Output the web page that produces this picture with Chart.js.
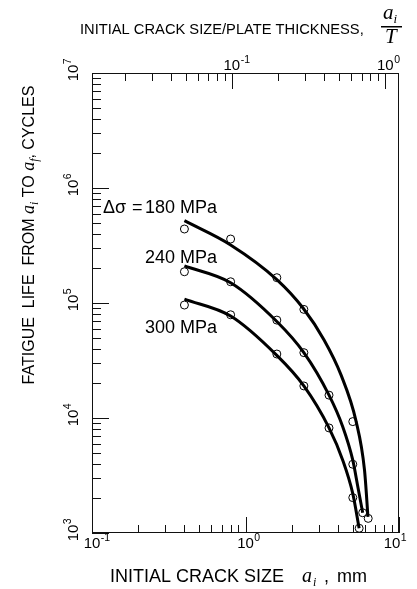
<!DOCTYPE html>
<html>
<head>
<meta charset="utf-8">
<script src="https://cdn.jsdelivr.net/npm/chart.js@4.4.0/dist/chart.umd.min.js"></script>
<style>
  body { margin: 0; background: #fff; }
  canvas { display: block; }
</style>
</head>
<body>
<canvas id="lifeChart" width="417" height="589"></canvas>
<script>
// fitted curves (crack size mm, cycles)
var curveSize180 = [0.4, 0.8, 1.6, 2.37, 3.25, 4.19, 5.25, 5.96, 6.28];
var curveLife180 = [5.2e5, 3.2e5, 1.6e5, 9.05e4, 4.77e4, 2.37e4, 9.4e3, 3.53e3, 1.38e3];
var curveSize240 = [0.4, 0.8, 1.6, 2.4, 3.5, 4.3, 5.0, 5.4, 5.8];
var curveLife240 = [2.1e5, 1.5e5, 6.9e4, 3.7e4, 1.58e4, 8.4e3, 4.3e3, 2.5e3, 1.5e3];
var curveSize300 = [0.4, 0.8, 1.6, 2.4, 3.5, 4.3, 5.0, 5.5];
var curveLife300 = [1.08e5, 7.7e4, 3.5e4, 1.9e4, 8.2e3, 4.3e3, 2.2e3, 1.1e3];

// test points (open circles)
var testSize180 = [0.4, 0.8, 1.6, 2.4, 5.0, 6.3];
var testLife180 = [4.4e5, 3.6e5, 1.66e5, 8.8e4, 9.3e3, 1.34e3];
var testSize240 = [0.4, 0.8, 1.6, 2.4, 3.5, 5.0, 5.8];
var testLife240 = [1.87e5, 1.53e5, 7.1e4, 3.7e4, 1.58e4, 3.96e3, 1.5e3];
var testSize300 = [0.4, 0.8, 1.6, 2.4, 3.5, 5.0, 5.5];
var testLife300 = [9.6e4, 7.9e4, 3.6e4, 1.9e4, 8.2e3, 2.03e3, 1.1e3];

var plateThickness = 8.15; // mm, gives the a_i/T axis on top

// tick values and labels
var bottomMajor = [0.1, 1, 10];
var bottomExp = ['-1', '0', '1'];
var bottomMinor = [0.2, 0.3, 0.4, 0.5, 0.6, 0.7, 0.8, 0.9, 2, 3, 4, 5, 6, 7, 8, 9];
var topMajor = [0.1, 1];
var topExp = ['-1', '0'];
var topMinor = [0.02, 0.03, 0.04, 0.05, 0.06, 0.07, 0.08, 0.09, 0.2, 0.3, 0.4, 0.5, 0.6, 0.7, 0.8, 0.9];
var leftMajor = [1e3, 1e4, 1e5, 1e6, 1e7];
var leftExp = ['3', '4', '5', '6', '7'];
var leftMinor = [];
[1e3, 1e4, 1e5, 1e6].forEach(function(d) {
    [2, 3, 4, 5, 6, 7, 8, 9].forEach(function(m) { leftMinor.push(m * d); });
});

var stressLabels = ['180 MPa', '240 MPa', '300 MPa'];

function pairs(xs, ys) {
    return xs.map(function(x, i) { return { x: x, y: ys[i] }; });
}

var SANS = '"Liberation Sans", Arial, sans-serif';
var SERIF = '"Liberation Serif", "Times New Roman", serif';

// draw a row of text pieces: [text, font, dy]
function drawPieces(ctx, pieces, x, y) {
    pieces.forEach(function(p) {
        ctx.font = p[1];
        ctx.fillText(p[0], x, y + (p[2] || 0));
        x += ctx.measureText(p[0]).width;
    });
}
function piecesWidth(ctx, pieces) {
    var w = 0;
    pieces.forEach(function(p) { ctx.font = p[1]; w += ctx.measureText(p[0]).width; });
    return w;
}

// "10" with a small exponent, base centred on x
function drawPower(ctx, x, y, exp) {
    ctx.textAlign = 'left';
    ctx.font = '15px ' + SANS;
    var w = ctx.measureText('10').width;
    ctx.fillText('10', x - w / 2, y);
    ctx.font = '10.5px ' + SANS;
    ctx.fillText(exp, x + w / 2 + 0.5, y - 7);
}

var axisDecor = {
    id: 'axisDecor',
    afterDatasetsDraw: function(chart) {
        var ctx = chart.ctx;
        var a = chart.chartArea;
        var xs = chart.scales.x, ys = chart.scales.y, xt = chart.scales.xTop;
        ctx.save();
        ctx.strokeStyle = '#111';
        ctx.lineWidth = 1;
        ctx.strokeRect(a.left + 0.5, a.top + 0.5, a.right - a.left - 1, a.bottom - a.top - 1);

        ctx.beginPath();
        function vTick(scale, v, y0, len) {
            var px = Math.round(scale.getPixelForValue(v)) + 0.5;
            ctx.moveTo(px, y0); ctx.lineTo(px, y0 + len);
        }
        bottomMajor.forEach(function(v) { vTick(xs, v, a.bottom, -16); });
        bottomMinor.forEach(function(v) { vTick(xs, v, a.bottom, -8); });
        topMajor.forEach(function(v) { vTick(xt, v, a.top, 16); });
        topMinor.forEach(function(v) { vTick(xt, v, a.top, 8); });
        leftMajor.forEach(function(v) {
            var py = Math.round(ys.getPixelForValue(v)) + 0.5;
            ctx.moveTo(a.left, py); ctx.lineTo(a.left + 17, py);
        });
        leftMinor.forEach(function(v) {
            var py = Math.round(ys.getPixelForValue(v)) + 0.5;
            ctx.moveTo(a.left, py); ctx.lineTo(a.left + 9, py);
        });
        ctx.stroke();

        ctx.fillStyle = '#000';
        ctx.textBaseline = 'alphabetic';

        // tick labels
        bottomMajor.forEach(function(v, i) {
            var px = xs.getPixelForValue(v);
            if (i == bottomMajor.length - 1) px -= 7;
            drawPower(ctx, px, 548, bottomExp[i]);
        });
        topMajor.forEach(function(v, i) {
            drawPower(ctx, xt.getPixelForValue(v), 70, topExp[i]);
        });
        leftMajor.forEach(function(v, i) {
            ctx.save();
            ctx.translate(78, ys.getPixelForValue(v));
            ctx.rotate(-Math.PI / 2);
            drawPower(ctx, 0, 0, leftExp[i]);
            ctx.restore();
        });

        // bottom axis title
        ctx.font = '18px ' + SANS;
        ctx.fillText('INITIAL CRACK SIZE', 110, 582);
        ctx.font = 'italic 20px ' + SERIF;
        ctx.fillText('a', 302, 582);
        ctx.font = 'italic 12px ' + SERIF;
        ctx.fillText('i', 313, 586);
        ctx.font = '18px ' + SANS;
        ctx.fillText(',', 324, 582);
        ctx.fillText('mm', 337, 582);

        // top axis title with a_i / T fraction
        drawPieces(ctx, [['INITIAL CRACK SIZE/PLATE THICKNESS,', '14.7px ' + SANS]], 80, 34);
        drawPieces(ctx, [['a', 'italic 21px ' + SERIF], ['i', 'italic 13px ' + SERIF, 4]], 383, 19);
        ctx.fillRect(381, 26, 21, 1.5);
        drawPieces(ctx, [['T', 'italic 21px ' + SERIF]], 385, 43);

        // left axis title
        var yTitle = [
            ['FATIGUE  LIFE  FROM ', '16px ' + SANS],
            ['a', 'italic 18px ' + SERIF],
            ['i', 'italic 12px ' + SERIF, 4],
            [' TO ', '16px ' + SANS],
            ['a', 'italic 18px ' + SERIF],
            ['f', 'italic 12px ' + SERIF, 4],
            [', CYCLES', '16px ' + SANS]
        ];
        ctx.save();
        ctx.translate(34, 235);
        ctx.rotate(-Math.PI / 2);
        drawPieces(ctx, yTitle, -piecesWidth(ctx, yTitle) / 2, 0);
        ctx.restore();

        // stress range labels
        ctx.font = '18px ' + SANS;
        ctx.fillText('\u0394\u03c3', 103, 213);
        ctx.fillText('=', 132, 213);
        ctx.fillText(stressLabels[0], 145, 213);
        ctx.fillText(stressLabels[1], 145, 263);
        ctx.fillText(stressLabels[2], 145, 333);
        ctx.restore();
    }
};

function circleSet(xs, ys) {
    return {
        data: pairs(xs, ys),
        showLine: false,
        pointRadius: 4,
        pointBorderWidth: 1,
        pointBorderColor: '#000',
        pointBackgroundColor: 'rgba(255,255,255,0)'
    };
}
function curveSet(xs, ys) {
    return {
        data: pairs(xs, ys),
        borderColor: '#000',
        borderWidth: 3,
        pointRadius: 0,
        cubicInterpolationMode: 'monotone',
        fill: false
    };
}

var chart = new Chart(document.getElementById('lifeChart'), {
    type: 'line',
    data: {
        datasets: [
            circleSet(testSize180, testLife180),
            circleSet(testSize240, testLife240),
            circleSet(testSize300, testLife300),
            curveSet(curveSize180, curveLife180),
            curveSet(curveSize240, curveLife240),
            curveSet(curveSize300, curveLife300)
        ]
    },
    options: {
        responsive: false,
        animation: false,
        devicePixelRatio: 1,
        layout: { padding: { left: 92, right: 18, top: 73, bottom: 56 } },
        plugins: { legend: { display: false }, tooltip: { enabled: false } },
        scales: {
            x: { type: 'logarithmic', min: 0.1, max: 10, display: false },
            xTop: { type: 'logarithmic', position: 'top', min: 0.1 / plateThickness, max: 10 / plateThickness, display: false },
            y: { type: 'logarithmic', min: 1e3, max: 1e7, display: false }
        }
    },
    plugins: [axisDecor]
});
</script>
</body>
</html>
